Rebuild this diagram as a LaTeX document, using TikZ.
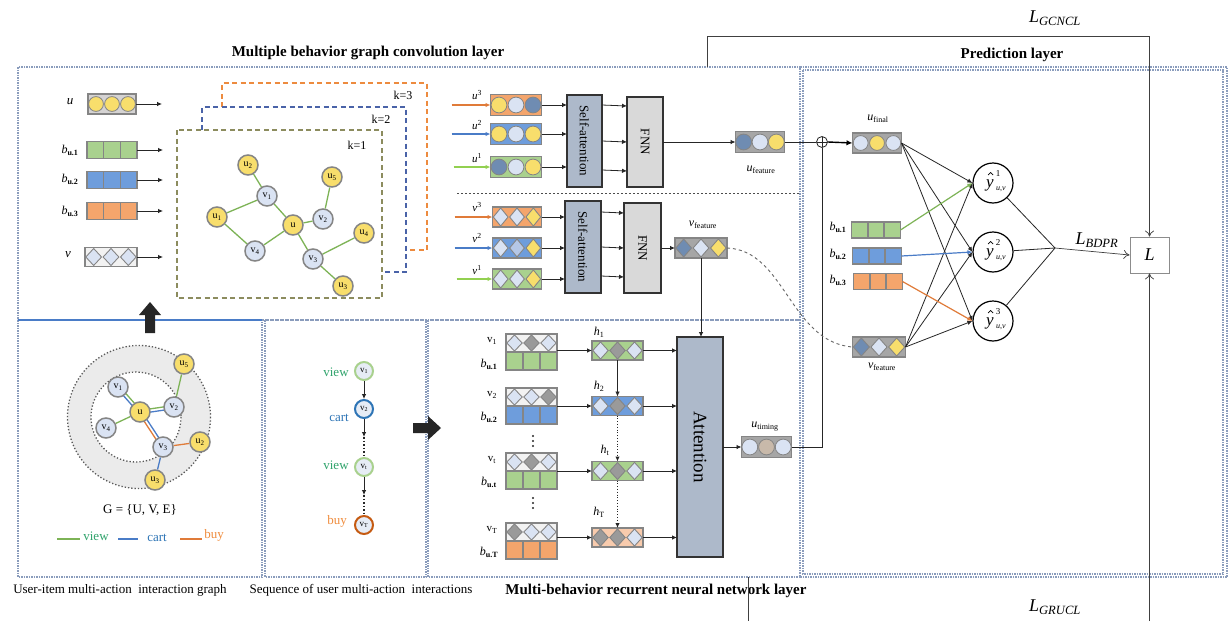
\documentclass[tikz,border=0pt]{standalone}
\usepackage{fontspec}
\setmainfont{Liberation Serif}
\usetikzlibrary{calc,arrows.meta}

\definecolor{yel}{HTML}{F8DE6C}
\definecolor{lbl}{HTML}{DAE3F3}
\definecolor{mbl}{HTML}{B4C7E7}
\definecolor{dbl}{HTML}{6F8CB2}
\definecolor{grn}{HTML}{A9D18E}
\definecolor{blu}{HTML}{6E9DDC}
\definecolor{org}{HTML}{F4A56C}
\definecolor{lorg}{HTML}{F8CBAD}
\definecolor{tan}{HTML}{C8B9AA}
\definecolor{dgr}{HTML}{9A9A9A}
\definecolor{vgray}{HTML}{858585}
\definecolor{fgray}{HTML}{A6A6A6}
\definecolor{bgray}{HTML}{D5D3D3}
\definecolor{wgray}{HTML}{F2F2F2}
\definecolor{sablue}{HTML}{ADB9CA}
\definecolor{fnngray}{HTML}{D9D9D9}
\definecolor{frame}{HTML}{8A9CBC}
\definecolor{eview}{HTML}{7DB356}
\definecolor{ecart}{HTML}{4A7CC7}
\definecolor{ebuy}{HTML}{E07B39}
\definecolor{aview}{HTML}{92D050}
\definecolor{tview}{HTML}{2FA36B}
\definecolor{tcart}{HTML}{2E75B6}
\definecolor{tbuy}{HTML}{F08C3C}
\definecolor{sorg}{HTML}{C55A11}
\definecolor{sfill}{HTML}{E6ECF5}
\definecolor{ringgray}{HTML}{EBEBEB}
\definecolor{kgreen}{HTML}{8C8C5E}
\definecolor{kblue}{HTML}{4A63A8}
\definecolor{korange}{HTML}{ED8B3F}

\pgfdeclarelayer{back}
\pgfdeclarelayer{edges}
\pgfsetlayers{back,edges,main}

\tikzset{
  vbox/.style={rectangle,draw=vgray,line width=1.6pt,inner sep=0pt,outer sep=0pt},
  arr/.style={-{Latex[length=5pt,width=4.5pt]},line width=0.8pt,black!85},
  openarr/.style={-{To[length=6pt,width=9pt]},line width=0.7pt,black!75},
  frm/.style={draw=frame,densely dotted,line width=1.5pt},
  kbox/.style={dash pattern=on 5pt off 3.5pt,line width=1.4pt},
  gnode/.style={circle,draw=vgray,line width=1.5pt,minimum size=20pt,inner sep=0pt,font=\fontsize{10}{10}\selectfont},
  unode/.style={gnode,fill=yel},
  vnode/.style={gnode,fill=lbl},
  gedge/.style={eview,line width=1.3pt},
  snode/.style={circle,line width=2pt,minimum size=18pt,inner sep=0pt,fill=sfill,font=\fontsize{9}{9}\selectfont},
  blockbox/.style={draw=black!80,line width=1.5pt,inner sep=0pt,outer sep=0pt},
  lab/.style={font=\fontsize{12}{14}\selectfont,inner sep=0pt},
  slab/.style={font=\fontsize{11}{13}\selectfont,inner sep=0pt},
  ttl/.style={font=\bfseries\fontsize{15}{17}\selectfont,inner sep=0pt},
  capt/.style={font=\fontsize{13}{15}\selectfont,inner sep=0pt},
  lossl/.style={font=\fontsize{18}{20}\selectfont,inner sep=0pt},
  yout/.style={circle,draw=black,line width=1.2pt,minimum size=40pt,inner sep=0pt,fill=white},
}

% vector of three circles: name, position, background, three fills
\newcommand\cvec[6]{%
  \node[vbox,fill=#3,minimum width=\vw,minimum height=\vh] (#1) at (#2) {};
  \foreach \k/\c in {-1/#4,0/#5,1/#6}
    \filldraw[fill=\c,draw=vgray,line width=0.8pt] ($(#1.center)+({\k*\vw/3},0)$) circle ({\vh/2-2.6});
  \draw[vgray,line width=1.6pt] (#1.south west) rectangle (#1.north east);
}
% vector of three diamonds
\newcommand\dvec[6]{%
  \node[vbox,fill=#3,minimum width=\vw,minimum height=\vh] (#1) at (#2) {};
  \foreach \k/\c in {-1/#4,0/#5,1/#6}
    \filldraw[fill=\c,draw=vgray,line width=0.9pt] ($(#1.center)+({\k*\vw/3},0)$)
      +({-\vw/6+0.8},0) -- +(0,{-\vh/2+1}) -- +({\vw/6-0.8},0) -- +(0,{\vh/2-1}) -- cycle;
  \draw[vgray,line width=1.6pt] (#1.south west) rectangle (#1.north east);
}
% vector of three square cells
\newcommand\svec[3]{%
  \node[vbox,fill=#3,minimum width=\vw,minimum height=\vh] (#1) at (#2) {};
  \draw[vgray,line width=1.6pt]
    ($(#1.north west)!1/3!(#1.north east)$) -- ($(#1.south west)!1/3!(#1.south east)$)
    ($(#1.north west)!2/3!(#1.north east)$) -- ($(#1.south west)!2/3!(#1.south east)$);
}
% two parallel edges between node centres
\newcommand\dedge[4]{%
  \draw[#3,line width=1.3pt] ($(#1)!1.6pt!90:(#2)$) -- ($(#2)!1.6pt!-90:(#1)$);
  \draw[#4,line width=1.3pt] ($(#1)!1.6pt!-90:(#2)$) -- ($(#2)!1.6pt!90:(#1)$);
}
% prediction output: circle node, caret drawn above the y, index at upper right
\newcommand\ynode[3]{%
  \node[yout] (#1) at (#2) {};
  \node[inner sep=0pt,font=\itshape\fontsize{17}{17}\selectfont] (#1y) at ($(#1.center)+(-3,2)$) {y};
  \node[inner sep=0pt,font=\fontsize{9}{9}\selectfont] at ($(#1.center)+(5,-9)$) {#3};
  \node[inner sep=0pt,font=\itshape\fontsize{8}{8}\selectfont] at ($(#1.center)+(8,6)$) {u,v};
  \draw[line width=0.7pt] ($(#1.center)+(-5,-8)$) -- ++(2.5,-2.5) -- ++(2.5,2.5);
}
% vertical ellipsis between rows
\newcommand\vdotsat[1]{%
  \foreach \d in {-5,0,5} \fill[black!85] ($(#1)+(0,\d)$) circle (1.1);
}
\newcommand\bsub[1]{\textit{b}\textsubscript{\textbf{u.#1}}}

\begin{document}
\begin{tikzpicture}[x=1pt,y=-1pt]
\useasboundingbox (0,0) rectangle (1230,621);

% ---------- frames ----------
\begin{pgfonlayer}{back}
\fill[white] (0,0) rectangle (1230,621);
\draw[frm] (18,67) rectangle (800,320);
\draw[frm] (18,320) rectangle (262,577);
\draw[frm] (265,320) rectangle (426,577);
\draw[frm] (428,320) rectangle (800,577);
\draw[frm] (803,70) rectangle (1223,574);
\draw[frm] (800,67) -- (1227,67) -- (1227,577) -- (800,577);
\draw[ecart,line width=1.5pt] (18,320) -- (262,320);
\draw[black!70,dash pattern=on 2pt off 2pt,line width=1pt] (457,193) -- (800,193);
\end{pgfonlayer}

\node[ttl] at (368,53) {Multiple behavior graph convolution layer};
\node[ttl] at (1012,55) {Prediction layer};

% ---------- input embeddings ----------
\def\vw{48}\def\vh{20}
\cvec{u0}{112,104}{bgray}{yel}{yel}{yel}
\def\vw{50}\def\vh{17}
\svec{b1}{112,150}{grn}
\svec{b2}{112,180}{blu}
\svec{b3}{112,211}{org}
\def\vw{52}\def\vh{19}
\dvec{v0}{111,257}{wgray}{lbl}{lbl}{lbl}
\node[lab,font=\itshape\fontsize{13}{14}\selectfont] at (70,102) {u};
\node[lab] at (70,150) {\bsub{1}};
\node[lab] at (70,179) {\bsub{2}};
\node[lab] at (70,211) {\bsub{3}};
\node[lab,font=\itshape\fontsize{13}{14}\selectfont] at (68,255) {v};
\foreach \n in {u0,b1,b2,b3,v0} \draw[arr] (\n.east) -- ++(26,0);

% ---------- layered graph ----------
\draw[kbox,draw=korange] (222,107) -- (222,83) -- (427,83) -- (427,250) -- (406,250);
\draw[kbox,draw=kblue] (202,130) -- (202,107) -- (406,107) -- (406,272) -- (382,272);
\draw[kbox,draw=kgreen] (177,130) rectangle (382,298);
\node[lab] at (403,95) {k=3};
\node[lab] at (381,119) {k=2};
\node[lab] at (357,145) {k=1};

\node[unode] (gu2) at (248,165) {u\textsubscript{2}};
\node[vnode] (gv1) at (267,196) {v\textsubscript{1}};
\node[unode] (gu1) at (217,217) {u\textsubscript{1}};
\node[unode] (gu)  at (293,225) {u};
\node[vnode] (gv2) at (323,219) {v\textsubscript{2}};
\node[unode] (gu5) at (332,177) {u\textsubscript{5}};
\node[vnode] (gv4) at (255,251) {v\textsubscript{4}};
\node[vnode] (gv3) at (313,259) {v\textsubscript{3}};
\node[unode] (gu4) at (364,233) {u\textsubscript{4}};
\node[unode] (gu3) at (343,286) {u\textsubscript{3}};
\foreach \a/\b in {gu2/gv1,gv1/gu1,gv1/gu,gu1/gv4,gv4/gu,gu/gv2,gv2/gu5,gu/gv3,gv3/gu4,gv3/gu3}
  \draw[gedge] (\a) -- (\b);

% ---------- user-side attention ----------
\def\vw{51}\def\vh{21}
\cvec{uu3}{516,105}{org}{yel}{lbl}{dbl}
\cvec{uu2}{516,134}{blu}{yel}{lbl}{yel}
\cvec{uu1}{516,167}{grn}{dbl}{lbl}{yel}
\draw[arr,ebuy,line width=1.3pt] (uu3.west) ++(-39,0) -- (uu3.west);
\draw[arr,ecart,line width=1.3pt] (uu2.west) ++(-39,0) -- (uu2.west);
\draw[arr,aview,line width=1.3pt] (uu1.west) ++(-37,0) -- (uu1.west);
\node[slab] at (477,95) {\textit{u}\textsuperscript{3}};
\node[slab] at (477,125) {\textit{u}\textsuperscript{2}};
\node[slab] at (477,158) {\textit{u}\textsuperscript{1}};

\node[blockbox,fill=sablue,minimum width=35pt,minimum height=92pt] (sa1) at (584.5,141)
  {\rotatebox{-90}{\fontsize{13}{15}\selectfont Self-attention}};
\node[blockbox,fill=fnngray,minimum width=36pt,minimum height=90pt] (fnn1) at (645,142)
  {\rotatebox{-90}{\fontsize{13}{15}\selectfont FNN}};
\foreach \n in {uu3,uu2,uu1} \draw[arr] (\n.east) -- (\n.east -| sa1.west);
\foreach \dy in {-36,0,29} \draw[arr] ($(sa1.east)+(0,\dy)$) -- ($(fnn1.west)+(0,\dy)$);

\def\vw{49}\def\vh{21}
\cvec{ufeat}{760,142}{fgray}{dbl}{lbl}{yel}
\node[lab] at (761,170) {\textit{u}\textsubscript{feature}};
\draw[arr] (fnn1.east |- ufeat.west) -- (ufeat.west);

% ---------- item-side attention ----------
\def\vw{49}\def\vh{20}
\dvec{vv3}{517,217}{org}{lbl}{lbl}{yel}
\dvec{vv2}{517,248}{blu}{lbl}{mbl}{yel}
\dvec{vv1}{517,279}{grn}{lbl}{lbl}{yel}
\draw[arr,ebuy,line width=1.3pt] (vv3.west) ++(-38,0) -- (vv3.west);
\draw[arr,ecart,line width=1.3pt] (vv2.west) ++(-38,0) -- (vv2.west);
\draw[arr,aview,line width=1.3pt] (vv1.west) ++(-36,0) -- (vv1.west);
\node[slab] at (477,207) {\textit{v}\textsuperscript{3}};
\node[slab] at (477,238) {\textit{v}\textsuperscript{2}};
\node[slab] at (477,270) {\textit{v}\textsuperscript{1}};

\node[blockbox,fill=sablue,minimum width=36pt,minimum height=92pt] (sa2) at (583,247)
  {\rotatebox{-90}{\fontsize{13}{15}\selectfont Self-attention}};
\node[blockbox,fill=fnngray,minimum width=37pt,minimum height=90pt] (fnn2) at (642.5,248)
  {\rotatebox{-90}{\fontsize{13}{15}\selectfont FNN}};
\foreach \n in {vv3,vv2,vv1} \draw[arr] (\n.east) -- (\n.east -| sa2.west);
\foreach \dy in {-35,0,29} \draw[arr] ($(sa2.east)+(0,\dy)$) -- ($(fnn2.west)+(0,\dy)$);

\def\vw{52}\def\vh{20}
\dvec{vfeat}{701,248}{fgray}{dbl}{lbl}{yel}
\node[lab] at (703,225) {\textit{v}\textsubscript{feature}};
\draw[arr] (fnn2.east |- vfeat.west) -- (vfeat.west);

% ---------- interaction graph ----------
\begin{pgfonlayer}{back}
\draw[black!65,dotted,line width=1.3pt,fill=ringgray] (139,417) circle (71.5);
\draw[black!65,dotted,line width=1.3pt,fill=white] (136,417) circle (45);
\end{pgfonlayer}
\fill[black!85] (150,302) -- (161,315) -- (155,315) -- (155,333) -- (145,333) -- (145,315) -- (139,315) -- cycle;

\node[vnode] (rv1) at (118,387) {v\textsubscript{1}};
\node[unode] (ru)  at (140,412) {u};
\node[vnode] (rv2) at (174,407) {v\textsubscript{2}};
\node[unode] (ru5) at (184,364) {u\textsubscript{5}};
\node[vnode] (rv4) at (106,428) {v\textsubscript{4}};
\node[vnode] (rv3) at (163,447) {v\textsubscript{3}};
\node[unode] (ru2) at (200,442) {u\textsubscript{2}};
\node[unode] (ru3) at (155,480) {u\textsubscript{3}};
\begin{pgfonlayer}{edges}
\dedge{rv1}{ru}{eview}{ecart}
\dedge{ru}{rv2}{eview}{ecart}
\dedge{ru}{rv3}{ecart}{ebuy}
\draw[gedge] (rv2) -- (ru5);
\draw[gedge] (ru) -- (rv4);
\draw[ebuy,line width=1.3pt] (rv3) -- (ru2);
\draw[ecart,line width=1.3pt] (rv3) -- (ru3);
\end{pgfonlayer}
\node[capt] at (140,510) {G = \{U, V, E\}};
\draw[eview,line width=1.5pt] (57,539) -- (80,539);
\node[capt,text=tview] at (96,536) {view};
\draw[ecart,line width=1.5pt] (118,539) -- (138,539);
\node[capt,text=tcart] at (157,538) {cart};
\draw[ebuy,line width=1.5pt] (180,539) -- (202,539);
\node[capt,text=tbuy] at (214,535) {buy};
\node[capt] at (120,590) {User-item multi-action~ interaction graph};

% ---------- behaviour sequence ----------
\node[snode,draw=grn] (s1) at (364,371) {v\textsubscript{1}};
\node[snode,draw=tcart] (s2) at (364,409) {v\textsubscript{2}};
\node[snode,draw=grn] (st) at (364,467) {v\textsubscript{t}};
\node[snode,draw=sorg] (sT) at (364,525) {v\textsubscript{T}};
\node[capt,text=tview] at (336,372) {view};
\node[capt,text=tcart] at (339,418) {cart};
\node[capt,text=tview] at (336,465) {view};
\node[capt,text=tbuy] at (337,521) {buy};
\draw[arr] (s1) -- (s2);
\draw[arr] (s2.south) -- ++(0,18) coordinate (s2a);
\draw[black!85,dotted,line width=1.5pt] (s2a) -- (st.north);
\draw[arr] (st.south) -- ++(0,18) coordinate (sta);
\draw[black!85,dotted,line width=1.5pt] (sta) -- (sT.north);
\node[capt] at (361,590) {Sequence of user multi-action~ interactions};
\fill[black!85] (441,428) -- (428,416) -- (428,423) -- (413,423) -- (413,433) -- (428,433) -- (428,440) -- cycle;

% ---------- recurrent layer ----------
\def\vw{51}\def\vh{18}
\dvec{r1}{531.5,343}{wgray}{lbl}{dgr}{lbl}
\svec{q1}{531.5,361}{grn}
\dvec{r2}{531.5,397}{wgray}{lbl}{lbl}{dgr}
\svec{q2}{531.5,415}{blu}
\dvec{r3}{531.5,462}{wgray}{lbl}{dgr}{lbl}
\svec{q3}{531.5,480}{grn}
\dvec{r4}{531.5,532}{wgray}{dgr}{lbl}{lbl}
\svec{q4}{531.5,550}{org}
\node[slab] at (492,341) {v\textsubscript{1}};
\node[lab] at (489,364) {\bsub{1}};
\node[slab] at (492,395) {v\textsubscript{2}};
\node[lab] at (489,417) {\bsub{2}};
\node[slab] at (492,460) {v\textsubscript{t}};
\node[lab] at (489,482) {\bsub{t}};
\node[slab] at (492,530) {v\textsubscript{T}};
\node[lab] at (489,552) {\bsub{T}};
\vdotsat{533,441}
\vdotsat{533,503}

\def\vw{51}\def\vh{19}
\dvec{h1}{617.5,350.5}{grn}{lbl}{dgr}{lbl}
\dvec{h2}{617.5,406}{blu}{lbl}{dgr}{lbl}
\dvec{ht}{617.5,471}{grn}{lbl}{dgr}{lbl}
\dvec{hT}{617.5,537.5}{lorg}{dgr}{dgr}{lbl}
\node[lab] at (599,332) {\textit{h}\textsubscript{1}};
\node[lab] at (599,386) {\textit{h}\textsubscript{2}};
\node[lab] at (605,450) {\textit{h}\textsubscript{t}};
\node[lab] at (599,512) {\textit{h}\textsubscript{T}};
\draw[arr] (h1.west -| r1.east) -- (h1.west);
\draw[arr] (h2.west -| r2.east) -- (h2.west);
\draw[arr] (ht.west -| r3.east) -- (ht.west);
\draw[arr] (hT.west -| r4.east) -- (hT.west);
\draw[arr] (h1.south) -- (h2.north);
\draw[arr,dotted,line width=1.3pt] (h2.south) -- (ht.north);
\draw[arr,dotted,line width=1.3pt] (ht.south) -- (hT.north);

\node[blockbox,fill=sablue,minimum width=46pt,minimum height=220pt] (att) at (700,447)
  {\rotatebox{-90}{\fontsize{19}{21}\selectfont Attention}};
\foreach \n in {h1,h2,ht,hT} \draw[arr] (\n.east) -- (\n.east -| att.west);
\draw[arr] (vfeat.south) -- (vfeat.south |- att.north);

\def\vw{50}\def\vh{21}
\cvec{utim}{766.5,447}{fgray}{lbl}{tan}{lbl}
\node[lab] at (765,427) {\textit{u}\textsubscript{timing}};
\draw[arr] (att.east |- utim.west) -- (utim.west);
\node[ttl] at (656,591) {Multi-behavior recurrent neural network layer};

% ---------- prediction layer ----------
\node[circle,draw=black!85,line width=0.8pt,minimum size=11pt,inner sep=0pt,
  path picture={\draw[black!85,line width=0.8pt]
    (path picture bounding box.north) -- (path picture bounding box.south)
    (path picture bounding box.west) -- (path picture bounding box.east);}] (oplus) at (822,142) {};
\draw[black!85,line width=0.8pt] (ufeat.east) -- (oplus.west);
\draw[black!85,line width=0.8pt] (oplus.south) |- (utim.east);

\def\vw{49}\def\vh{20}
\cvec{ufin}{877,143}{fgray}{lbl}{yel}{lbl}
\node[lab] at (878,119) {\textit{u}\textsubscript{final}};
\draw[-{Latex[length=6pt,width=5.5pt]},line width=1.4pt] (oplus.east) -- (ufin.west);

\def\vw{49}\def\vh{16}
\svec{pb1}{876,230}{grn}
\svec{pb2}{877,256}{blu}
\svec{pb3}{878,281.5}{org}
\node[lab] at (838,227) {\bsub{1}};
\node[lab] at (838,254) {\bsub{2}};
\node[lab] at (838,280) {\bsub{3}};

\def\vw{53}\def\vh{20}
\dvec{vf2}{879,347}{fgray}{dbl}{lbl}{yel}
\node[lab] at (882,367) {\textit{v}\textsubscript{feature}};
\draw[dashed,black!60,line width=0.9pt] (vfeat.east) .. controls (785,250) and (790,342) .. (vf2.west);

\ynode{y1}{993,183}{1}
\ynode{y2}{993,252}{2}
\ynode{y3}{993,321}{3}
\foreach \y in {y1,y2,y3} {
  \draw[arr] (ufin.east) -- (\y.west);
  \draw[arr] (vf2.east) -- (\y.west);
}
\draw[arr,eview,line width=1.2pt] (pb1.east) -- (y1.west);
\draw[arr,ecart,line width=1.2pt] (pb2.east) -- (y2.west);
\draw[arr,ebuy,line width=1.2pt] (pb3.east) -- (y3.west);

\coordinate (J) at (1055,248);
\foreach \y in {y1,y2,y3} \draw[black!85,line width=0.8pt] (\y) -- (J);
\node[draw=black!45,line width=0.8pt,minimum width=39pt,minimum height=36pt,inner sep=0pt,
  font=\itshape\fontsize{18}{20}\selectfont] (L) at (1149.5,255) {L};
\draw[openarr] (J) -- (L.west);
\node[lossl] at (1097,240) {\textit{L}\textsubscript{\textit{BDPR}}};

% ---------- loss connections ----------
\coordinate (g0) at (707,67);
\coordinate (g1) at (707,36);
\draw[openarr] (g0) -- (g1) -| (L.north);
\node[lossl] at (1055,18) {\textit{L}\textsubscript{\textit{GCNCL}}};
\coordinate (r0) at (748,577);
\coordinate (r1b) at (748,621);
\draw[black!75,line width=0.7pt] (r0) -- (r1b);
\coordinate (r2) at (1149.5,621);
\draw[openarr] (r2) -- (L.south);
\node[lossl] at (1055,607) {\textit{L}\textsubscript{\textit{GRUCL}}};
\end{tikzpicture}
\end{document}
